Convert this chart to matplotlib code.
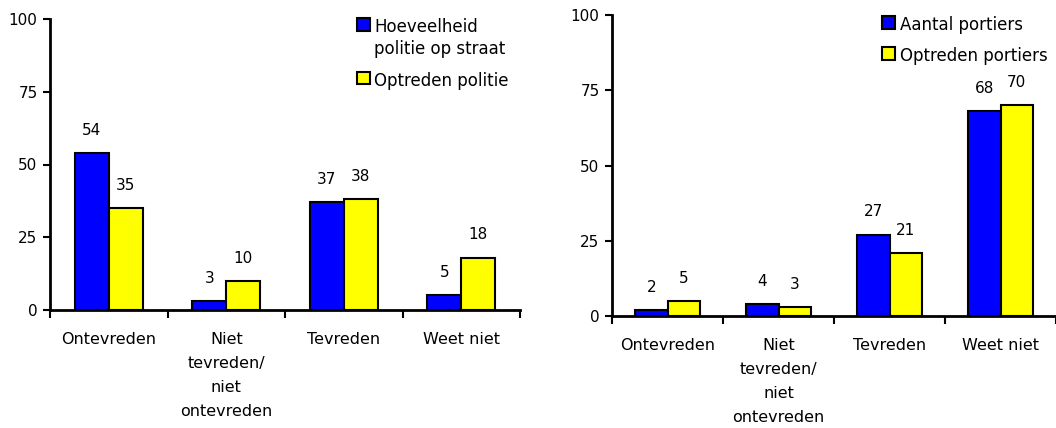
import matplotlib.pyplot as plt
import numpy as np

plt.rcParams.update({
    "font.family": "sans-serif",
    "font.sans-serif": ["DejaVu Sans"],
    "figure.facecolor": "white",
    "axes.facecolor": "white",
})

C_BLUE = "#0000FF"
C_YELLOW = "#FFFF00"

categories = ["Ontevreden", "Niet\ntevreden/\nniet\nontevreden", "Tevreden", "Weet niet"]

politie_labels = ["Hoeveelheid\npolitie op straat", "Optreden politie"]
politie_hoeveelheid = [54, 3, 37, 5]
politie_optreden = [35, 10, 38, 18]

portiers_labels = ["Aantal portiers", "Optreden portiers"]
portiers_aantal = [2, 4, 27, 68]
portiers_optreden = [5, 3, 21, 70]

yticks = [0, 25, 50, 75, 100]


def draw_panel(ax, s1, s2, labels, legend_anchor):
    x = np.arange(len(categories))
    width = 0.29
    b1 = ax.bar(x - width / 2, s1, width, color=C_BLUE, edgecolor="black",
                linewidth=1.5, label=labels[0], zorder=3)
    b2 = ax.bar(x + width / 2, s2, width, color=C_YELLOW, edgecolor="black",
                linewidth=1.5, label=labels[1], zorder=3)
    for bars, vals in ((b1, s1), (b2, s2)):
        for rect, v in zip(bars, vals):
            ax.annotate(f"{v}", xy=(rect.get_x() + rect.get_width() / 2, v),
                        xytext=(0, 11), textcoords="offset points",
                        ha="center", va="bottom", fontsize=11)

    ax.set_xlim(-0.5, len(categories) - 0.5)
    ax.set_ylim(0, 100)
    ax.set_yticks(yticks)
    ax.tick_params(axis="y", direction="out", length=5, width=1.5,
                   labelsize=11, pad=4)
    ax.set_xticks(x)
    ax.set_xticklabels(categories, fontsize=11.5, linespacing=1.75)
    ax.set_xticks(np.arange(len(categories) + 1) - 0.5, minor=True)
    ax.tick_params(axis="x", which="major", length=0, pad=16)
    ax.tick_params(axis="x", which="minor", direction="out", length=6, width=1.5)
    for side in ("top", "right"):
        ax.spines[side].set_visible(False)
    for side in ("left", "bottom"):
        ax.spines[side].set_linewidth(2)

    leg = ax.legend(loc="upper left", bbox_to_anchor=legend_anchor,
                    bbox_transform=ax.figure.transFigure, frameon=False,
                    fontsize=12, handlelength=0.8, handleheight=0.8,
                    handletextpad=0.25, labelspacing=0.8, borderpad=0,
                    borderaxespad=0)
    for t in leg.get_texts():
        t.set_linespacing(1.3)
    # box next to the first line of a two-line label, as in the original
    for col in leg._legend_handle_box.get_children():
        for row in col.get_children():
            row.align = "top"


fig = plt.figure(figsize=(10.56, 4.28), dpi=100)
ax1 = fig.add_axes([50 / 1056, 1 - 310 / 428, 470 / 1056, 291 / 428])
ax2 = fig.add_axes([612 / 1056, 1 - 316 / 428, 444 / 1056, 301 / 428])

draw_panel(ax1, politie_hoeveelheid, politie_optreden, politie_labels,
           (357 / 1056, 1 - 18 / 428))
draw_panel(ax2, portiers_aantal, portiers_optreden, portiers_labels,
           (882 / 1056, 1 - 16 / 428))

fig.savefig("out.png", dpi=100)
